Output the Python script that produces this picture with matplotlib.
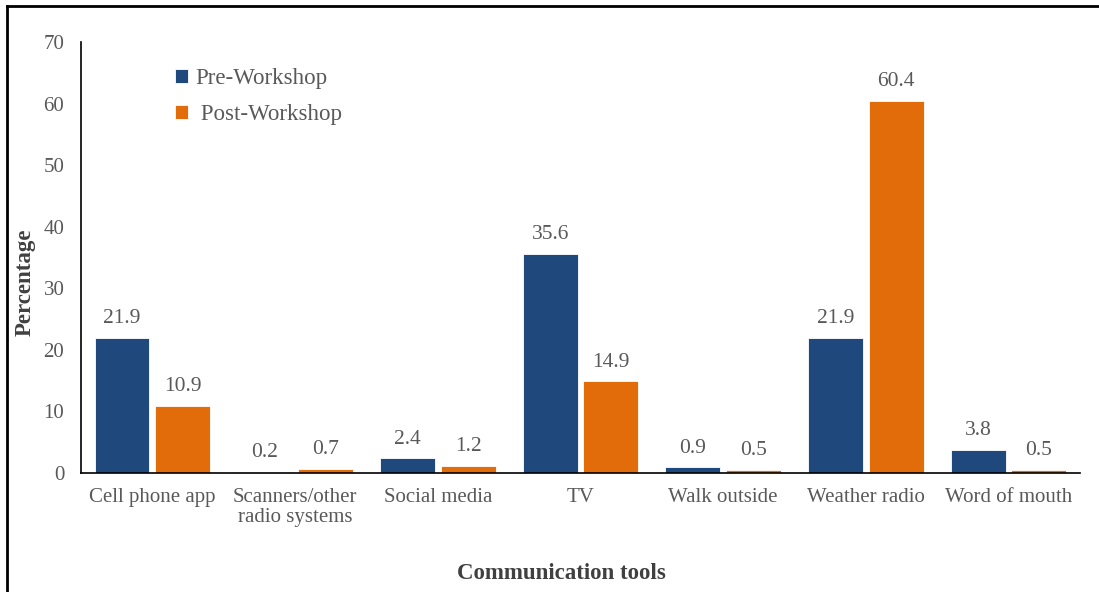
import numpy as np
import matplotlib
matplotlib.use("Agg")
import matplotlib.pyplot as plt
from matplotlib.lines import Line2D

# Data
categories = ["Cell phone app", "Scanners/other\nradio systems", "Social media", "TV",
              "Walk outside", "Weather radio", "Word of mouth"]
pre_workshop = [21.9, 0.2, 2.4, 35.6, 0.9, 21.9, 3.8]
post_workshop = [10.9, 0.7, 1.2, 14.9, 0.5, 60.4, 0.5]
y_ticks = [0, 10, 20, 30, 40, 50, 60, 70]

plt.rcParams["font.family"] = ["Liberation Serif", "DejaVu Serif"]
text_color = "#595959"
blue = "#1F497D"
orange = "#E36C0A"

fig = plt.figure(figsize=(10.99, 5.92), dpi=100)
ax = fig.add_axes([0.0737, 0.201, 0.909, 0.728])

x = np.arange(len(categories))
w = 0.385
gap = 0.02
b1 = ax.bar(x - w / 2 - gap, pre_workshop, w, color=blue, edgecolor="white", linewidth=0.6,
            label="Pre-Workshop")
b2 = ax.bar(x + w / 2 + gap, post_workshop, w, color=orange, edgecolor="white", linewidth=0.6,
            label=" Post-Workshop")

for bars in (b1, b2):
    for bar in bars:
        h = bar.get_height()
        ax.annotate(f"{h:.1f}", (bar.get_x() + bar.get_width() / 2, h),
                    xytext=(0, 7), textcoords="offset points",
                    ha="center", va="bottom", fontsize=15.5, color=text_color)

ax.set_xlim(-0.5, len(categories) - 0.5)
ax.set_ylim(0, 70)
ax.set_yticks(y_ticks)
ax.set_xticks(x)
ax.set_xticklabels(categories, fontsize=15, color=text_color, linespacing=1.05)
ax.tick_params(axis="y", length=0, labelsize=15, labelcolor=text_color, pad=12)
ax.tick_params(axis="x", length=0, pad=11)
for s in ("top", "right"):
    ax.spines[s].set_visible(False)
ax.spines["left"].set_linewidth(1.2)
ax.spines["bottom"].set_linewidth(1.2)

fig.text(0.023, 0.524, "Percentage", rotation=90, ha="center", va="center",
         fontsize=16.5, fontweight="bold", color="#404040")
fig.text(0.511, 0.032, "Communication tools", ha="center", va="center",
         fontsize=16.5, fontweight="bold", color="#404040")

leg = ax.legend(loc="upper left", bbox_to_anchor=(0.073, 0.987), frameon=False,
                fontsize=16.5, handlelength=0.6, handleheight=0.6, handletextpad=0.3,
                labelspacing=0.65)
for t in leg.get_texts():
    t.set_color(text_color)

# figure frame (left and top edges)
fig.add_artist(Line2D([0.0065, 0.0065], [0, 0.99], transform=fig.transFigure,
                      color="black", linewidth=2))
fig.add_artist(Line2D([0.0065, 1.0], [0.99, 0.99], transform=fig.transFigure,
                      color="black", linewidth=2))

fig.savefig("out.png", dpi=100)
